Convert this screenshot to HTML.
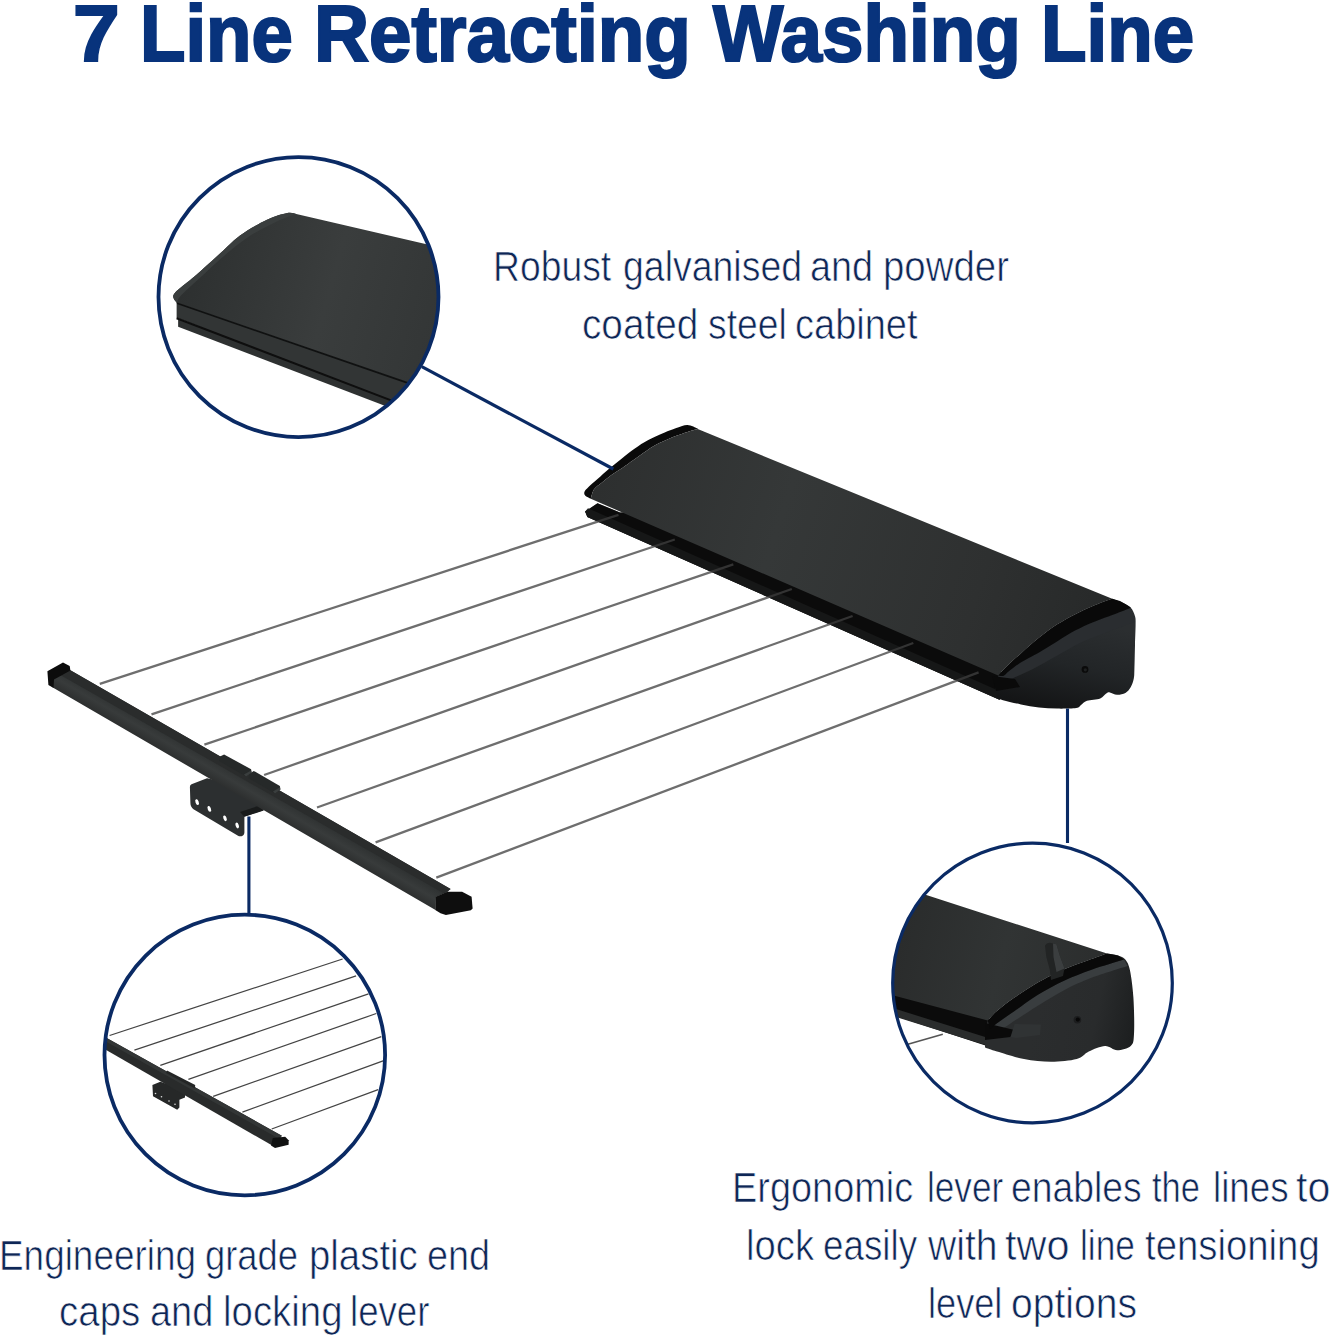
<!DOCTYPE html>
<html>
<head>
<meta charset="utf-8">
<title>7 Line Retracting Washing Line</title>
<style>
html,body{margin:0;padding:0;background:#fff;}
body{width:1333px;height:1340px;position:relative;overflow:hidden;font-family:"Liberation Sans",sans-serif;}
#art{position:absolute;left:0;top:0;width:1333px;height:1340px;}
.t{position:absolute;white-space:nowrap;line-height:1;color:#0e2656;font-size:42.4px;-webkit-text-stroke:0.7px #fff;}
.t span{display:inline-block;transform-origin:0 0;}
#title{font-weight:bold;font-size:80px;color:#08337c;-webkit-text-stroke:2.2px #08337c;}
.t span{position:absolute;top:0;}
</style>
</head>
<body>
<svg id="art" width="1333" height="1340" viewBox="0 0 1333 1340">
<defs>
<clipPath id="c1"><circle cx="298.5" cy="297.1" r="140.1"/></clipPath>
<clipPath id="c2"><circle cx="244.8" cy="1055" r="140.3"/></clipPath>
<clipPath id="c3"><circle cx="1032.5" cy="983" r="139.9"/></clipPath>
</defs>
<g id="cabinet">
<defs>
<linearGradient id="gtop" gradientUnits="userSpaceOnUse" x1="600" y1="480" x2="1100" y2="640"><stop offset="0" stop-color="#2d2f2f"/><stop offset="0.35" stop-color="#353838"/><stop offset="0.75" stop-color="#2e3030"/><stop offset="1" stop-color="#272929"/></linearGradient>
<linearGradient id="gcap" gradientUnits="userSpaceOnUse" x1="1080" y1="620" x2="1060" y2="710"><stop offset="0" stop-color="#2b2e30"/><stop offset="0.5" stop-color="#222527"/><stop offset="1" stop-color="#141516"/></linearGradient>
</defs>
<path d="M597.5 503.2 L620.0 512.5 L640.0 512.0 L1000.0 668.0 L1006.0 690.0 L999.5 699.7 L587.4 517.0 L585.1 511.6 Z" fill="#0b0b0b"/>
<path d="M585.1 511.6 L588.0 508.2 L998.0 690.4 L1004.0 697.0 L999.5 699.7 L587.4 517.0 Z" fill="#272929"/>
<g id="wires" stroke="#6e6e6e" stroke-width="2.3" fill="none">
<path d="M99.8 683.9 L618.5 514.8"/>
<path d="M151.5 714.3 L674.8 539.5"/>
<path d="M204.4 744.7 L733.3 564.3"/>
<path d="M264.1 775 L791.8 589"/>
<path d="M317 807.5 L852.6 616"/>
<path d="M375.6 842.4 L913.3 643"/>
<path d="M436.3 877.7 L978.6 672.3"/>
</g>
<path d="M597.5 503.2 L620.0 512.5 L640.0 512.0 L1000.0 668.0 L1006.0 690.0 L999.5 699.7 L587.4 517.0 L585.1 511.6 Z" fill="#0b0b0b" opacity="0.6"/>
<path d="M697.7 428.5 C696.0 427.9 691.1 425.0 687.5 424.9 C683.9 424.8 681.0 426.3 676.3 427.9 C671.6 429.5 664.6 432.3 659.4 434.7 C654.1 437.1 649.5 439.3 644.8 442.0 C640.1 444.7 635.4 448.0 631.3 451.0 C627.2 454.0 623.8 457.0 620.0 460.0 C616.2 463.0 612.5 465.8 608.8 469.0 C605.0 472.2 600.9 476.1 597.5 479.1 C594.1 482.1 590.6 484.9 588.5 487.0 C586.4 489.1 585.2 490.1 584.6 491.5 C584.0 492.9 584.1 494.3 585.1 495.5 C586.1 496.7 589.8 498.2 590.8 498.8 C591.3 497.2 592.2 492.0 594.1 489.3 C596.0 486.6 599.0 484.9 602.0 482.5 C605.0 480.1 608.7 477.0 612.1 474.6 C615.5 472.2 618.7 470.3 622.3 467.9 C625.9 465.5 629.4 462.9 633.5 460.0 C637.6 457.1 642.7 453.2 647.0 450.4 C651.3 447.6 654.5 445.5 659.4 443.1 C664.3 440.7 671.6 437.7 676.3 435.8 C681.0 433.9 683.9 433.0 687.5 431.9 C691.1 430.8 696.0 429.6 697.7 429.1 Z" fill="#0a0a0a"/>
<path d="M1112.2 598.8 C1114.0 599.5 1119.9 601.5 1123.0 603.0 C1126.1 604.5 1128.8 605.6 1130.8 607.8 C1132.8 610.0 1134.2 613.4 1135.0 616.2 C1135.8 619.0 1135.6 619.8 1135.6 624.6 C1135.6 629.4 1135.2 637.6 1135.0 645.0 C1134.8 652.4 1134.6 663.4 1134.4 669.0 C1134.2 674.6 1134.4 675.6 1133.8 678.6 C1133.2 681.6 1132.2 684.6 1130.8 687.0 C1129.4 689.4 1127.7 691.7 1125.4 693.0 C1123.1 694.3 1119.6 694.9 1117.0 694.8 C1114.4 694.7 1111.6 692.6 1109.8 692.4 C1108.0 692.2 1107.8 692.6 1106.2 693.6 C1104.6 694.6 1103.4 697.2 1100.2 698.4 C1097.0 699.6 1090.2 699.7 1087.0 700.8 C1083.8 701.9 1082.8 703.8 1081.0 705.0 C1079.2 706.2 1080.2 707.4 1076.2 708.0 C1072.2 708.6 1063.2 708.7 1057.0 708.6 C1050.8 708.5 1045.0 708.1 1039.0 707.4 C1033.0 706.7 1027.0 705.6 1021.0 704.4 C1015.0 703.2 1007.0 701.3 1003.0 700.2 C999.0 699.1 998.0 698.2 997.0 697.8 L995.0 688.5 L998.2 675.5 C999.6 674.0 1002.8 670.3 1006.6 666.6 C1010.4 662.9 1015.6 658.2 1021.0 653.4 C1026.4 648.6 1033.0 642.6 1039.0 637.8 C1045.0 633.0 1051.0 628.5 1057.0 624.6 C1063.0 620.7 1069.0 617.5 1075.0 614.4 C1081.0 611.3 1086.8 608.6 1093.0 606.0 C1099.2 603.4 1109.0 600.0 1112.2 598.8 Z" fill="url(#gcap)"/>
<path d="M998.2 675.5 C999.1 675.5 1001.7 676.5 1003.5 675.8 C1005.3 675.0 1006.1 673.2 1009.0 671.0 C1011.9 668.8 1016.0 665.4 1021.0 662.3 C1026.0 659.2 1033.0 655.9 1039.0 652.4 C1045.0 648.9 1051.0 645.0 1057.0 641.4 C1063.0 637.8 1069.0 633.8 1075.0 630.6 C1081.0 627.4 1086.0 625.1 1093.0 622.2 C1100.0 619.3 1110.7 615.6 1117.0 613.2 C1123.3 610.8 1128.5 608.7 1130.8 607.8 L1135.0 622.0 C1130.0 623.8 1114.0 629.6 1105.0 633.0 C1096.0 636.4 1089.0 638.8 1081.0 642.6 C1073.0 646.4 1065.0 651.4 1057.0 655.8 C1049.0 660.2 1041.0 665.0 1033.0 669.0 C1025.0 673.0 1014.5 677.5 1009.0 679.8 C1003.5 682.1 1001.5 682.5 1000.0 683.0 Z" fill="#2a2d30"/>
<path d="M992 676 L1015 679 L1020 687 L996 691 Z" fill="#0a0a0a"/>
<path d="M1112.2 598.8 C1109.0 600.0 1099.2 603.4 1093.0 606.0 C1086.8 608.6 1081.0 611.3 1075.0 614.4 C1069.0 617.5 1063.0 620.7 1057.0 624.6 C1051.0 628.5 1045.0 633.0 1039.0 637.8 C1033.0 642.6 1026.4 648.6 1021.0 653.4 C1015.6 658.2 1010.4 662.9 1006.6 666.6 C1002.8 670.3 999.6 674.0 998.2 675.5 C999.1 675.5 1001.7 676.5 1003.5 675.8 C1005.3 675.0 1006.1 673.2 1009.0 671.0 C1011.9 668.8 1016.0 665.4 1021.0 662.3 C1026.0 659.2 1033.0 655.9 1039.0 652.4 C1045.0 648.9 1051.0 645.0 1057.0 641.4 C1063.0 637.8 1069.0 633.8 1075.0 630.6 C1081.0 627.4 1086.0 625.1 1093.0 622.2 C1100.0 619.3 1110.7 615.6 1117.0 613.2 C1123.3 610.8 1128.5 608.7 1130.8 607.8 L1127.0 605.0 L1120.0 601.0 Z" fill="#090909"/>
<path d="M590.8 498.8 C591.3 497.2 592.2 492.0 594.1 489.3 C596.0 486.6 599.0 484.9 602.0 482.5 C605.0 480.1 608.7 477.0 612.1 474.6 C615.5 472.2 618.7 470.3 622.3 467.9 C625.9 465.5 629.4 462.9 633.5 460.0 C637.6 457.1 642.7 453.2 647.0 450.4 C651.3 447.6 654.5 445.5 659.4 443.1 C664.3 440.7 671.6 437.7 676.3 435.8 C681.0 433.9 683.9 433.0 687.5 431.9 C691.1 430.8 696.0 429.6 697.7 429.1 L1112.2 598.8 C1109.0 600.0 1099.2 603.4 1093.0 606.0 C1086.8 608.6 1081.0 611.3 1075.0 614.4 C1069.0 617.5 1063.0 620.7 1057.0 624.6 C1051.0 628.5 1045.0 633.0 1039.0 637.8 C1033.0 642.6 1026.4 648.6 1021.0 653.4 C1015.6 658.2 1010.4 662.9 1006.6 666.6 C1002.8 670.3 999.6 674.0 998.2 675.5 Z" fill="url(#gtop)"/>
<circle cx="1085" cy="669.4" r="3.4" fill="#0a0a0a"/>
<circle cx="1085.3" cy="669.8" r="1.6" fill="#1e2021"/>
</g>
<g id="bar">
<defs><linearGradient id="gbar" gradientUnits="userSpaceOnUse" x1="250" y1="773" x2="236.9" y2="795.5"><stop offset="0" stop-color="#2c2e2e"/><stop offset="0.3" stop-color="#303333"/><stop offset="0.6" stop-color="#383b3b"/><stop offset="1" stop-color="#2c2e2e"/></linearGradient></defs>
<!-- bracket -->
<path d="M207 778.3 L191.5 784.3 Q189.9 785 189.9 787 L190.4 803 Q190.5 807 193.5 809.3 L238 835.8 Q240.5 837 243 835.4 Q244.4 834.5 244.4 832.5 L244.4 816.5 L263.7 810.2 L262 790 Z" fill="#2c2f30"/>
<path d="M244.4 816.8 L263.7 810.5 L258 806 L240 812 Z" fill="#191b1b"/>
<g fill="#fff"><ellipse cx="197.1" cy="802.1" rx="1.6" ry="3" transform="rotate(-20 197.1 802.1)"/><ellipse cx="209.3" cy="808.9" rx="1.6" ry="3" transform="rotate(-20 209.3 808.9)"/><ellipse cx="225" cy="818.3" rx="1.6" ry="3" transform="rotate(-20 225 818.3)"/><ellipse cx="237.2" cy="825.5" rx="1.6" ry="3" transform="rotate(-20 237.2 825.5)"/></g>
<!-- bar body -->
<path d="M70.4 670.2 L450.6 889 L447.3 892 L436 897 L435.5 910 L52.8 687.4 L50 674 Z" fill="url(#gbar)"/>
<path d="M70.4 670.2 L450.6 889 L444 893.5 L56 672.5 Z" fill="#2a2c2c"/>
<!-- clips -->
<path d="M224.1 754.4 L251.1 769.3 L251.6 772.6 L246 776.5 L219 761 L220 756.5 Z" fill="#262929"/>
<path d="M253.8 771 L279.9 785.9 L280.4 789.6 L275 793.5 L248.5 778 L250 773.3 Z" fill="#262929"/>
<path d="M246 776.5 L251.6 772.6 L251.1 770.5 L244 774.5 Z" fill="#3a3e3e"/>
<path d="M275 793.5 L280.4 789.6 L279.9 787.2 L273 791.5 Z" fill="#3a3e3e"/>
<!-- end caps -->
<path d="M47.4 671.2 L63 662.4 L69.7 666.1 L70.4 670.5 L54 679.5 L53.5 688 L48.4 685 Z" fill="#0c0c0c"/>
<path d="M435.8 896.8 L447.3 891.7 L462.1 891.7 L471.6 896.8 L472.6 908.6 L470.9 910.3 L445.9 915 L440.5 913.3 L435.3 910 Z" fill="#0e0e0e"/>
</g>
<g id="circ1" clip-path="url(#c1)">
<defs><linearGradient id="g1" gradientUnits="userSpaceOnUse" x1="190" y1="260" x2="440" y2="330"><stop offset="0" stop-color="#2d3030"/><stop offset="0.55" stop-color="#3a3d3d"/><stop offset="1" stop-color="#333636"/></linearGradient></defs>
<path d="M178.1 319 L178.1 326.7 L445 428.8 L445 405 Z" fill="#2e3131"/>
<path d="M176.6 302 L176.6 317.7 L445 420.5 L445 395 Z" fill="#323535"/>
<path d="M176.6 318.2 L445 421" stroke="#0e0e0e" stroke-width="2" fill="none"/>
<path d="M174.3 299.7 C174.4 298.6 171.4 296.8 174.8 292.9 C178.2 288.9 187.9 282.2 195.0 276.0 C202.1 269.8 210.0 262.6 217.5 255.8 C225.0 249.1 231.8 241.5 240.0 235.5 C248.2 229.5 259.1 223.6 267.0 219.8 C274.9 216.1 282.4 213.9 287.3 213.0 C292.2 212.1 294.8 213.9 296.3 214.1 L445.0 248.5 L445.0 395.5 L177.0 303.0 Z" fill="url(#g1)"/>
<path d="M174.3 299.7 C174.4 298.6 171.4 296.8 174.8 292.9 C178.2 288.9 187.9 282.2 195.0 276.0 C202.1 269.8 210.0 262.6 217.5 255.8 C225.0 249.1 231.8 241.5 240.0 235.5 C248.2 229.5 259.1 223.6 267.0 219.8 C274.9 216.1 282.4 213.9 287.3 213.0 C292.2 212.1 294.8 213.9 296.3 214.1 C292.9 215.4 283.9 218.2 276.0 222.0 C268.1 225.8 257.6 231.0 249.0 236.6 C240.4 242.2 232.6 248.9 224.3 255.8 C216.1 262.8 206.8 271.6 199.5 278.3 C192.2 285.1 184.2 292.2 180.4 296.3 C176.7 300.4 177.6 301.9 177.0 303.0 Z" fill="#3a3e3e"/>
<path d="M177 303.3 L445 395.8" stroke="#101111" stroke-width="1.7" fill="none"/>
</g>
<!--CIRCLE1-->
<g id="circ2" clip-path="url(#c2)">
<g stroke="#444" stroke-width="1.25" fill="none">
<path d="M109.6 1035.5 L342.6 959"/><path d="M134.4 1050.2 L356.1 975.9"/><path d="M160.3 1065.3 L368.5 993.9"/><path d="M188.4 1079.4 L376.3 1013.5"/><path d="M213.2 1096.3 L381.3 1036.7"/><path d="M242.4 1112.1 L383.1 1060.8"/><path d="M271.7 1129 L378.1 1089.6"/>
</g>
<path d="M152.4 1085 L160.3 1081.7 L185 1090 L185 1097.4 L179.4 1099.7 L179.4 1107.6 L177.2 1109.8 L153 1096.3 Z" fill="#262828"/>
<g fill="#ddd"><circle cx="155.5" cy="1093.5" r="0.8"/><circle cx="161.5" cy="1096.8" r="0.8"/><circle cx="169" cy="1101" r="0.8"/><circle cx="175" cy="1104.3" r="0.8"/></g>
<path d="M95 1031.5 L281.8 1135.7 L274 1146.5 L95 1043.5 Z" fill="#292b2b"/>
<path d="M95 1031.5 L281.8 1135.7 L279.5 1139 L95 1035.5 Z" fill="#333636"/>
<path d="M167 1070.4 L195.2 1085 L195 1088.5 L166 1073 Z" fill="#242626"/>
<path d="M272.8 1138 L285.2 1136.8 L288.6 1140.2 L288.6 1144.7 L275 1148 L271 1145.5 Z" fill="#101111"/>
</g>
<!--CIRCLE2-->
<g id="circ3" clip-path="url(#c3)">
<defs><linearGradient id="g3" gradientUnits="userSpaceOnUse" x1="900" y1="940" x2="1100" y2="990"><stop offset="0" stop-color="#2a2c2c"/><stop offset="0.5" stop-color="#313434"/><stop offset="1" stop-color="#2b2d2d"/></linearGradient>
<linearGradient id="g3c" gradientUnits="userSpaceOnUse" x1="1040" y1="1000" x2="1135" y2="1020"><stop offset="0" stop-color="#2b2d2e"/><stop offset="0.6" stop-color="#292b2c"/><stop offset="1" stop-color="#1d1f20"/></linearGradient></defs>
<path d="M907.9 1044.3 L942.8 1034.2" stroke="#555" stroke-width="1.6" fill="none"/>
<path d="M880 990 L990 1019 L996 1040 L990 1047 L880 1011 Z" fill="#0b0b0b"/>
<path d="M880 1004 L990 1038.5 L992 1047 L880 1012 Z" fill="#2a2c2c"/>
<path d="M1107.0 953.5 C1108.8 953.8 1115.0 954.5 1118.0 955.5 C1121.0 956.5 1123.3 957.0 1125.3 959.5 C1127.3 962.0 1128.7 964.2 1130.0 970.5 C1131.3 976.8 1132.7 986.9 1133.4 997.5 C1134.1 1008.1 1134.5 1025.9 1134.0 1034.0 C1133.5 1042.1 1133.5 1043.3 1130.7 1046.0 C1127.9 1048.7 1121.5 1050.2 1117.2 1050.2 C1112.9 1050.2 1109.7 1045.8 1105.0 1046.0 C1100.3 1046.2 1093.5 1049.3 1088.8 1051.5 C1084.1 1053.7 1083.0 1057.3 1076.7 1059.0 C1070.4 1060.7 1059.8 1061.7 1051.0 1061.7 C1042.2 1061.7 1033.0 1060.7 1024.0 1059.0 C1015.0 1057.3 1003.5 1053.4 997.0 1051.5 C990.5 1049.6 987.0 1048.2 985.0 1047.5 L985.0 1030.0 L987.8 1020.5 C989.3 1018.9 992.5 1014.8 997.0 1011.0 C1001.5 1007.2 1007.9 1002.2 1014.6 997.5 C1021.4 992.8 1029.2 987.4 1037.5 982.7 C1045.8 978.0 1056.6 972.7 1064.5 969.2 C1072.4 965.7 1077.9 964.1 1085.0 961.5 C1092.1 958.9 1103.3 954.8 1107.0 953.5 Z" fill="url(#g3c)"/>
<path d="M1124.0 959.5 C1118.6 961.2 1101.4 966.2 1091.5 969.7 C1081.6 973.2 1073.5 976.3 1064.5 980.5 C1055.5 984.7 1045.8 989.9 1037.5 995.0 C1029.2 1000.1 1021.4 1006.3 1014.6 1011.0 C1007.9 1015.7 1001.1 1020.2 997.0 1023.2 C992.9 1026.2 991.2 1028.0 990.0 1029.0 L996.0 1033.0 C998.4 1031.4 1003.6 1028.0 1010.5 1023.5 C1017.4 1019.0 1028.5 1011.6 1037.5 1006.0 C1046.5 1000.4 1055.5 994.7 1064.5 990.0 C1073.5 985.3 1081.0 981.8 1091.5 977.8 C1102.0 973.8 1121.5 968.0 1127.5 966.0 Z" fill="#393d3f"/>
<path d="M985 1023 L1014.6 1030 L1010.5 1037 L985 1040 Z" fill="#0a0a0a"/>
<path d="M1014.6 1024 L1041 1024.5 L1040 1035 L1016 1038 L1010.5 1037 Z" fill="#303334"/>
<path d="M987.8 1020.5 C989.3 1018.9 992.5 1014.8 997.0 1011.0 C1001.5 1007.2 1007.9 1002.2 1014.6 997.5 C1021.4 992.8 1029.2 987.4 1037.5 982.7 C1045.8 978.0 1056.6 972.7 1064.5 969.2 C1072.4 965.7 1077.9 964.1 1085.0 961.5 C1092.1 958.9 1103.3 954.8 1107.0 953.5 L1118.0 955.5 L1124.0 959.5 C1118.6 961.2 1101.4 966.2 1091.5 969.7 C1081.6 973.2 1073.5 976.3 1064.5 980.5 C1055.5 984.7 1045.8 989.9 1037.5 995.0 C1029.2 1000.1 1021.4 1006.3 1014.6 1011.0 C1007.9 1015.7 1001.1 1020.2 997.0 1023.2 C992.9 1026.2 991.2 1028.0 990.0 1029.0 Z" fill="#090909"/>
<path d="M880 880 L924.8 894.6 L1107.0 953.5 C1103.3 954.8 1092.1 958.9 1085.0 961.5 C1077.9 964.1 1072.4 965.7 1064.5 969.2 C1056.6 972.7 1045.8 978.0 1037.5 982.7 C1029.2 987.4 1021.4 992.8 1014.6 997.5 C1007.9 1002.2 1001.5 1007.2 997.0 1011.0 C992.5 1014.8 989.3 1018.9 987.8 1020.5 L895.5 996.0 L880.0 992.0 Z" fill="url(#g3)"/>
<path d="M1045 945.5 Q1046.5 943 1049.7 942.8 L1056.4 944.2 L1059.8 955.7 L1064.5 968.5 L1063 976 L1051 980 L1049.7 969.2 L1046.3 957 Z" fill="#222424"/>
<path d="M1053 943.5 L1056.4 944.2 L1059.8 955.7 L1064.5 968.5 L1056.5 972 L1053.5 957 Z" fill="#3b3e3f"/>
<circle cx="1077.4" cy="1019.8" r="3.8" fill="#1c1d1e"/><circle cx="1077.8" cy="1019.6" r="2.1" fill="#070707"/>
</g>
<!--CIRCLE3-->
<g fill="none" stroke="#0a2a64">
<circle cx="298.5" cy="297.1" r="140" stroke-width="3.8"/>
<circle cx="244.8" cy="1055" r="140.3" stroke-width="3.8"/>
<circle cx="1032.5" cy="983" r="139.8" stroke-width="3.2"/>
<path d="M421.8 366.7 L613.3 469" stroke-width="3.2"/>
<path d="M248.9 816.5 V914" stroke-width="3.1"/>
<path d="M1067.5 708.5 V843" stroke-width="3.1"/>
</g>
</svg>
<div class="t" id="title" style="left:0;top:-6.5px;width:1333px;height:83px;"><span style="left:72.9px;transform:scaleX(1.05)">7</span> <span style="left:140.28px;transform:scaleX(0.9289)">Line</span> <span style="left:314.49px;transform:scaleX(0.9527)">Retracting</span> <span style="left:712.73px;transform:scaleX(0.9318)">Washing</span> <span style="left:1041.28px;transform:scaleX(0.9308)">Line</span></div>
<div class="t" id="r1" style="left:0;top:246.1px;width:1333px;height:43px;"><span style="left:493.36px;transform:scaleX(0.8802)">Robust</span> <span style="left:622.63px;transform:scaleX(0.8833)">galvanised</span> <span style="left:810.22px;transform:scaleX(0.8924)">and</span> <span style="left:882.88px;transform:scaleX(0.9066)">powder</span></div>
<div class="t" id="r2" style="left:0;top:303.8px;width:1333px;height:43px;"><span style="left:582.17px;transform:scaleX(0.9138)">coated</span> <span style="left:708.22px;transform:scaleX(0.8791)">steel</span> <span style="left:795.01px;transform:scaleX(0.8963)">cabinet</span></div>
<div class="t" id="e1" style="left:0;top:1235.1px;width:1333px;height:43px;"><span style="left:-0.71px;transform:scaleX(0.8706)">Engineering</span> <span style="left:204.59px;transform:scaleX(0.8571)">grade</span> <span style="left:308.58px;transform:scaleX(0.9052)">plastic</span> <span style="left:426.92px;transform:scaleX(0.8924)">end</span></div>
<div class="t" id="e2" style="left:0;top:1291.4px;width:1333px;height:43px;"><span style="left:59.28px;transform:scaleX(0.9081)">caps</span> <span style="left:150.01px;transform:scaleX(0.8955)">and</span> <span style="left:222.78px;transform:scaleX(0.9056)">locking</span> <span style="left:350.21px;transform:scaleX(0.8648)">lever</span></div>
<div class="t" id="g1" style="left:0;top:1166.5px;width:1333px;height:43px;"><span style="left:732.32px;transform:scaleX(0.894)">Ergonomic</span> <span style="left:926.81px;transform:scaleX(0.8295)">lever</span> <span style="left:1010.64px;transform:scaleX(0.88)">enables</span> <span style="left:1151.59px;transform:scaleX(0.8143)">the</span> <span style="left:1212.69px;transform:scaleX(0.8687)">lines</span> <span style="left:1296.43px;transform:scaleX(0.9697)">to</span></div>
<div class="t" id="g2" style="left:0;top:1224.9px;width:1333px;height:43px;"><span style="left:745.79px;transform:scaleX(0.9028)">lock</span> <span style="left:822.96px;transform:scaleX(0.8679)">easily</span> <span style="left:927.9px;transform:scaleX(0.9219)">with</span> <span style="left:1004.52px;transform:scaleX(0.9762)">two</span> <span style="left:1080.21px;transform:scaleX(0.8311)">line</span> <span style="left:1144.6px;transform:scaleX(0.9042)">tensioning</span></div>
<div class="t" id="g3" style="left:0;top:1282.9px;width:1333px;height:43px;"><span style="left:927.94px;transform:scaleX(0.8531)">level</span> <span style="left:1010.66px;transform:scaleX(0.9211)">options</span></div>
</body>
</html>
